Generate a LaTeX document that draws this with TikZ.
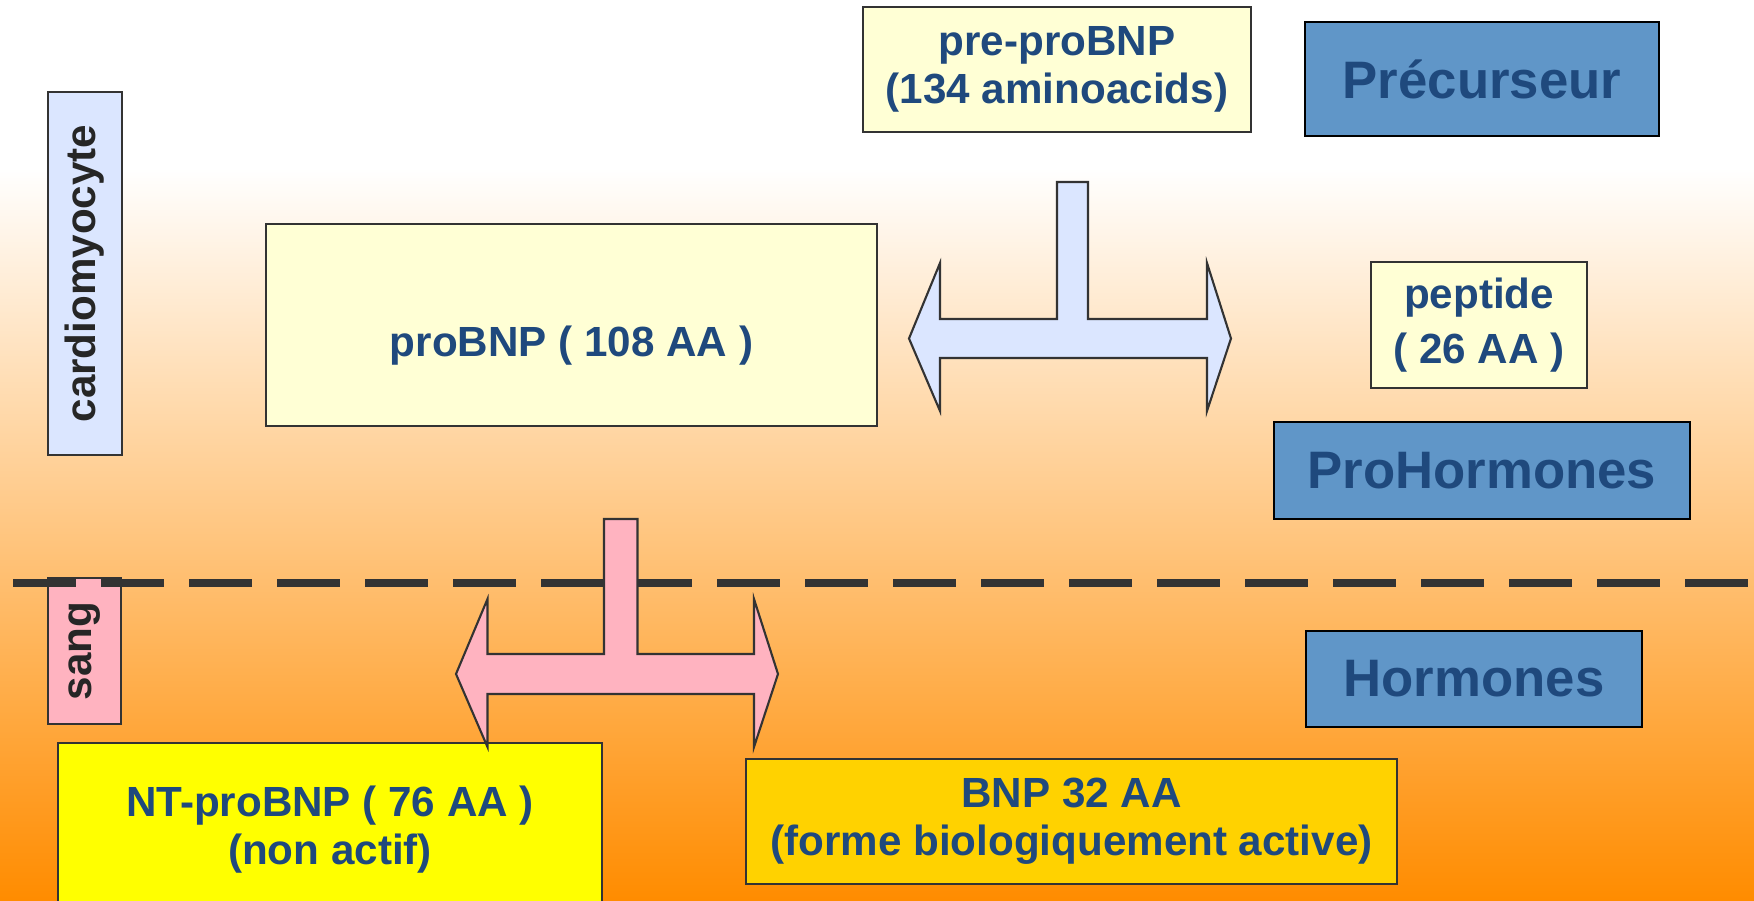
\documentclass[tikz,border=0pt]{standalone}
\usepackage{fontspec}
\setmainfont{Liberation Sans}
\usetikzlibrary{positioning}

\definecolor{textblue}{RGB}{31,73,125}
\definecolor{paleyellow}{RGB}{255,255,213}
\definecolor{paleblue}{RGB}{219,230,255}
\definecolor{palepink}{RGB}{255,179,192}
\definecolor{levelblue}{RGB}{96,150,200}
\definecolor{brightyellow}{RGB}{255,255,0}
\definecolor{gold}{RGB}{255,210,0}
\definecolor{deeporange}{RGB}{255,140,0}

\begin{document}
\begin{tikzpicture}[
    box/.style={draw=black!80, line width=0.6pt, fill=paleyellow, text=textblue, align=center,
      inner sep=0pt, font=\fontsize{12}{13.7}\selectfont\bfseries},
    level/.style={draw=black, line width=0.8pt, fill=levelblue, text=textblue,
      inner sep=0pt, font=\fontsize{15}{18}\selectfont\bfseries},
    side/.style={draw=black!80, line width=0.6pt, rotate=90, text=black!85,
      inner sep=0pt, font=\fontsize{12}{14}\selectfont\bfseries},
    split/.style={draw=black!80, line width=0.6pt, line join=miter}]

  \useasboundingbox (0,0) rectangle (17.54,9);
  \fill[white] (0,7.3) rectangle (17.54,9);
  \shade[top color=white, bottom color=deeporange] (0,0) rectangle (17.54,7.32);

  % compartments
  \node[side, fill=paleblue, minimum width=3.63cm, minimum height=0.74cm] (cardio) at (0.85,6.265) {cardiomyocyte};
  \node[side, fill=palepink, minimum width=1.46cm, minimum height=0.73cm] (sang) at (0.845,2.49) {sang};

  % peptides
  \node[box, minimum width=3.88cm, minimum height=1.25cm] (prepro) at (10.57,8.305) {pre-proBNP\\(134 aminoacids)};
  \node[box, minimum width=6.11cm, minimum height=2.02cm, text height=0.72cm, text depth=0.09cm] (probnp) at (5.715,5.75) {proBNP ( 108 AA )};
  \node[box, minimum width=2.16cm, minimum height=1.26cm, font=\fontsize{12}{15.8}\selectfont\bfseries] (peptide) at (14.79,5.75) {peptide\\( 26 AA )};
  \node[box, fill=brightyellow, minimum width=5.44cm, minimum height=1.74cm] (ntpro) at (3.30,0.70) {NT-proBNP ( 76 AA )\\(non actif)};
  \node[box, fill=gold, minimum width=6.51cm, minimum height=1.25cm] (bnp) at (10.715,0.785) {BNP 32 AA\\(forme biologiquement active)};

  % levels
  \node[level, minimum width=3.54cm, minimum height=1.14cm] (precurseur) at (14.82,8.21) {Précurseur};
  \node[level, minimum width=4.16cm, minimum height=0.97cm] (prohorm) at (14.82,4.295) {ProHormones};
  \node[level, minimum width=3.36cm, minimum height=0.96cm] (horm) at (14.74,2.21) {Hormones};

  % membrane
  \draw[black!80, line width=0.08cm, dash pattern=on 0.63cm off 0.25cm] (0.13,3.17) -- (17.54,3.17);

  % cleavage
  \draw[split, fill=paleblue] (10.57,7.18) -- (10.88,7.18) -- (10.88,5.81) -- (12.07,5.81) -- (12.07,6.37)
    -- (12.31,5.615) -- (12.07,4.89) -- (12.07,5.42) -- (9.40,5.42) -- (9.40,4.89) -- (9.09,5.615)
    -- (9.40,6.37) -- (9.40,5.81) -- (10.57,5.81) -- cycle;
  \draw[split, fill=palepink] (6.04,3.81) -- (6.375,3.81) -- (6.375,2.46) -- (7.54,2.46) -- (7.54,3.01)
    -- (7.78,2.26) -- (7.54,1.53) -- (7.54,2.06) -- (4.875,2.06) -- (4.875,1.53) -- (4.56,2.26)
    -- (4.875,3.01) -- (4.875,2.46) -- (6.04,2.46) -- cycle;
\end{tikzpicture}
\end{document}
